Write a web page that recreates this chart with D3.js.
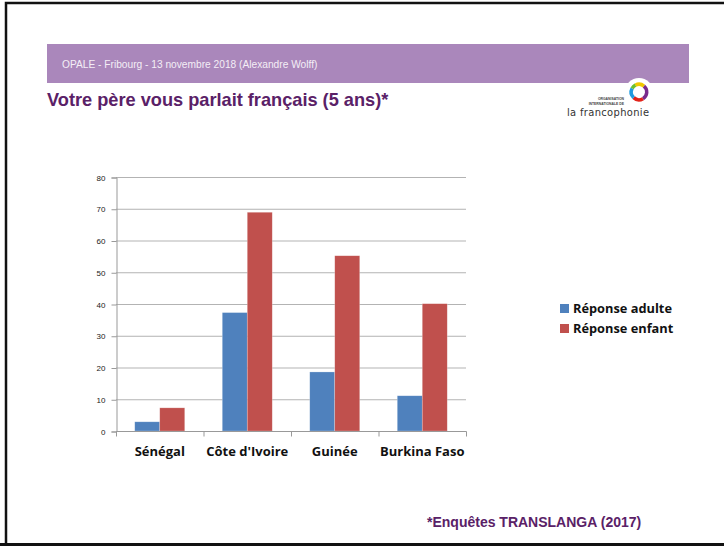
<!DOCTYPE html>
<meta charset="utf-8">
<style>
html, body {
  margin: 0;
  padding: 0;
  background: #fff;
}
svg {
  display: block;
}
.axis text {
  font-family: "Liberation Sans", Arial, sans-serif;
  font-size: 8px;
  fill: #222;
}
.xaxis text {
  font-family: "Open Sans", Lato, sans-serif;
  font-weight: bold;
  font-size: 13px;
  fill: #111;
}
</style>
<svg width="724" height="546"></svg>
<script src="https://cdn.jsdelivr.net/npm/d3@7"></script>
<script>
// donnees
const categories = ['Sénégal', "Côte d'Ivoire", 'Guinée', 'Burkina Faso'];
const adulte = [2.9, 37.3, 18.6, 11.1];
const enfant = [7.3, 68.9, 55.2, 40.1];
const series = ['Réponse adulte', 'Réponse enfant'];
const colors = ['#4f81bd', '#c0504d'];
const yTicks = [0, 10, 20, 30, 40, 50, 60, 70, 80];

const svg = d3.select('svg');
const width = +svg.attr('width'),
  height = +svg.attr('height');

// cadre de la diapo
svg.append('rect').attr('width', width).attr('height', height).attr('fill', '#fff');
svg.append('path')
  .attr('d', `M6,${height} V3 H${width}`)
  .attr('fill', 'none')
  .attr('stroke', '#111')
  .attr('stroke-width', 2.5);
svg.append('line')
  .attr('x1', 0).attr('x2', width)
  .attr('y1', 544.5).attr('y2', 544.5)
  .attr('stroke', '#111').attr('stroke-width', 3);

// bandeau violet
svg.append('rect')
  .attr('x', 47).attr('y', 44)
  .attr('width', 642).attr('height', 39)
  .attr('fill', '#aa87bb');
svg.append('text')
  .attr('x', 62).attr('y', 68)
  .attr('font-family', '"Liberation Sans", Arial, sans-serif')
  .attr('font-size', 10.2)
  .attr('fill', '#f4eef6')
  .text('OPALE - Fribourg - 13 novembre 2018 (Alexandre Wolff)');

// titre
svg.append('text')
  .attr('x', 47).attr('y', 106)
  .attr('font-family', '"Liberation Sans", Arial, sans-serif')
  .attr('font-weight', 'bold')
  .attr('font-size', 18.2)
  .attr('fill', '#5a2167')
  .text('Votre père vous parlait français (5 ans)*');

// logo francophonie
const logo = svg.append('g').attr('transform', 'translate(639,92)');
logo.append('circle').attr('r', 14).attr('fill', '#fff');
const ring = d3.arc().innerRadius(6).outerRadius(9.5);
const ringParts = [
  [-0.5, 0.7, '#f0c800'],
  [0.7, 2.6, '#7a2a8c'],
  [2.6, 3.9, '#e2231a'],
  [3.9, 5.2, '#1e9be0'],
  [5.2, 5.8, '#6cbf2e']
];
logo.selectAll('path.ring')
  .data(ringParts)
  .enter()
  .append('path')
  .attr('class', 'ring')
  .attr('d', d => ring({startAngle: d[0], endAngle: d[1]}))
  .attr('fill', d => d[2]);
svg.append('rect').attr('x', 560).attr('y', 102).attr('width', 100).attr('height', 20).attr('fill', '#fff');
svg.append('text')
  .attr('x', 624).attr('y', 100)
  .attr('text-anchor', 'end')
  .attr('font-family', '"Liberation Sans", Arial, sans-serif')
  .attr('font-size', 3.4)
  .attr('font-weight', 'bold')
  .attr('fill', '#444')
  .text('ORGANISATION');
svg.append('text')
  .attr('x', 624).attr('y', 105)
  .attr('text-anchor', 'end')
  .attr('font-family', '"Liberation Sans", Arial, sans-serif')
  .attr('font-size', 3.4)
  .attr('font-weight', 'bold')
  .attr('fill', '#444')
  .text('INTERNATIONALE DE');
svg.append('text')
  .attr('x', 567).attr('y', 116)
  .attr('font-family', '"DejaVu Sans Condensed", "Liberation Sans Narrow", sans-serif')
  .attr('font-size', 11)
  .attr('fill', '#333')
  .attr('textLength', 82)
  .text('la francophonie');

// graphique
const x0 = d3.scaleBand()
  .domain(categories)
  .range([116, 466])
  .paddingInner(0.4286)
  .paddingOuter(0.2143);
const x1 = d3.scaleBand()
  .domain(series)
  .range([0, x0.bandwidth()]);
const y = d3.scaleLinear()
  .domain([0, 80])
  .range([431, 177]);

svg.append('g')
  .attr('class', 'grid')
  .selectAll('line')
  .data(yTicks.slice(1))
  .enter()
  .append('line')
  .attr('x1', 116).attr('x2', 466)
  .attr('y1', d => y(d) + 0.5).attr('y2', d => y(d) + 0.5)
  .attr('stroke', '#b3b3b3')
  .attr('stroke-width', 1);

const yAxis = svg.append('g')
  .attr('class', 'axis')
  .attr('transform', 'translate(116.5,0.5)')
  .call(d3.axisLeft(y).tickValues(yTicks).tickSize(5).tickPadding(6));
yAxis.selectAll('line, path').attr('stroke', '#999');

const rows = categories.map((c, i) => ({cat: c, vals: [adulte[i], enfant[i]]}));
const groups = svg.append('g')
  .selectAll('g')
  .data(rows)
  .enter()
  .append('g')
  .attr('transform', d => `translate(${x0(d.cat)},0)`);
groups.selectAll('rect')
  .data(d => d.vals.map((v, j) => ({s: series[j], v: v, c: colors[j]})))
  .enter()
  .append('rect')
  .attr('x', d => x1(d.s))
  .attr('y', d => y(d.v))
  .attr('width', x1.bandwidth())
  .attr('height', d => y(0) - y(d.v))
  .attr('fill', d => d.c)
  .attr('stroke', '#fff')
  .attr('stroke-opacity', 0.4)
  .attr('stroke-width', 0.6);

// axe des categories
const xAxis = svg.append('g')
  .attr('class', 'xaxis')
  .attr('transform', 'translate(0,431.5)');
xAxis.append('line')
  .attr('x1', 116).attr('x2', 466.5)
  .attr('stroke', '#999');
const step = x0.step();
xAxis.selectAll('line.tick')
  .data(d3.range(categories.length + 1))
  .enter()
  .append('line')
  .attr('class', 'tick')
  .attr('x1', i => 116.5 + i * step).attr('x2', i => 116.5 + i * step)
  .attr('y1', 0).attr('y2', 5)
  .attr('stroke', '#999');
xAxis.selectAll('text')
  .data(categories)
  .enter()
  .append('text')
  .attr('x', d => x0(d) + x0.bandwidth() / 2)
  .attr('y', 24)
  .attr('text-anchor', 'middle')
  .text(d => d);

// legende
const legend = svg.append('g')
  .selectAll('g')
  .data(series)
  .enter()
  .append('g')
  .attr('transform', (d, i) => `translate(560,${304 + i * 20})`);
legend.append('rect')
  .attr('width', 9).attr('height', 9)
  .attr('fill', (d, i) => colors[i]);
legend.append('text')
  .attr('x', 13).attr('y', 8.5)
  .attr('font-family', '"Open Sans", Lato, sans-serif')
  .attr('font-weight', 'bold')
  .attr('font-size', 12.8)
  .attr('fill', '#111')
  .text(d => d);

// source
svg.append('text')
  .attr('x', 427).attr('y', 527)
  .attr('font-family', '"Liberation Sans", Arial, sans-serif')
  .attr('font-weight', 'bold')
  .attr('font-size', 14)
  .attr('fill', '#5a2167')
  .text('*Enquêtes TRANSLANGA (2017)');
</script>
